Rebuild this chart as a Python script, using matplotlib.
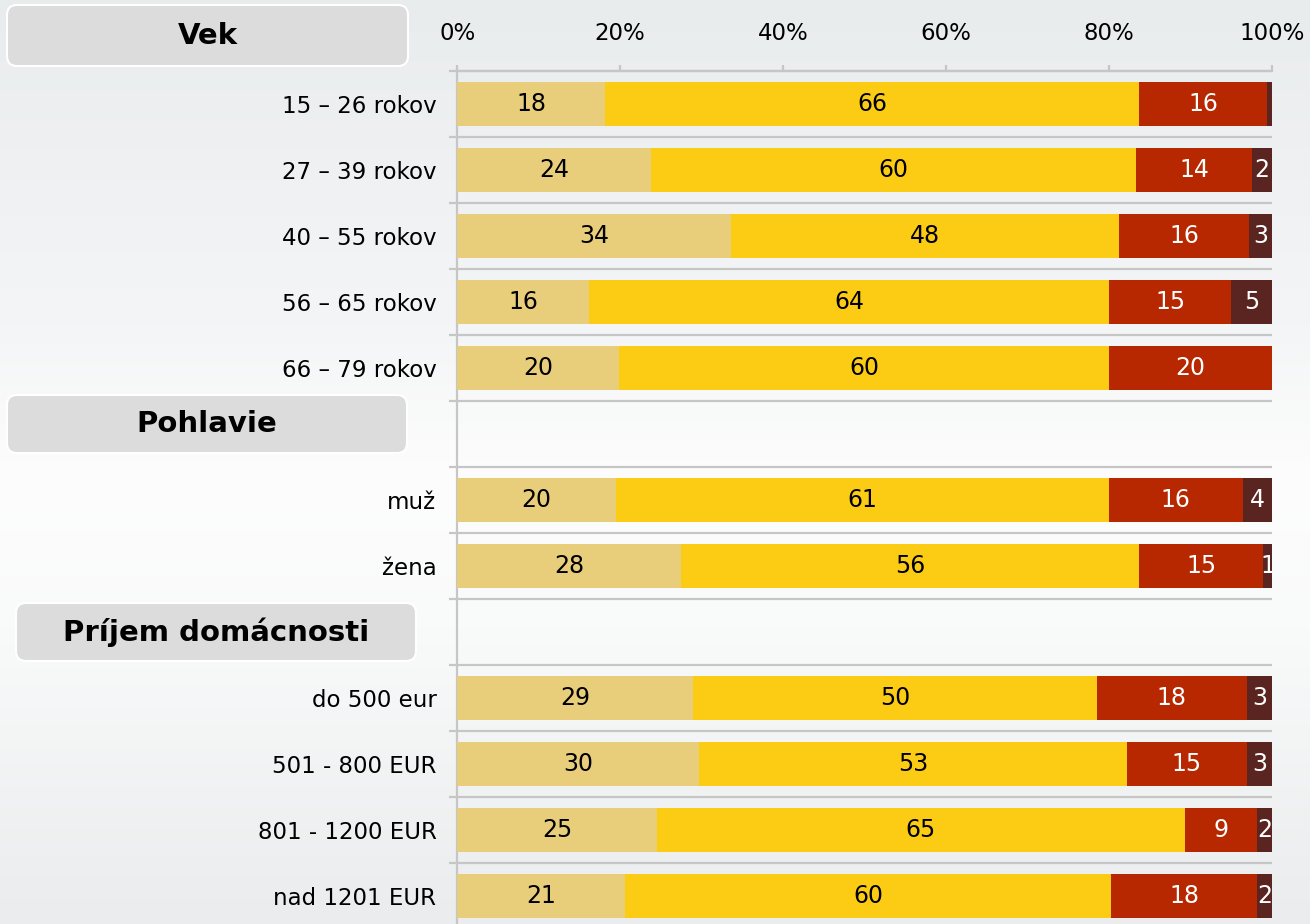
import numpy as np
import matplotlib
matplotlib.use("Agg")
import matplotlib.pyplot as plt
from matplotlib.patches import FancyBboxPatch
from matplotlib.transforms import IdentityTransform
from matplotlib.colors import LinearSegmentedColormap

plt.rcParams['font.family'] = ['DejaVu Sans']

# rows of the chart, "" = spacer row under a group header
rows = ["15 – 26 rokov", "27 – 39 rokov", "40 – 55 rokov", "56 – 65 rokov",
        "66 – 79 rokov", "", "muž", "žena", "", "do 500 eur",
        "501 - 800 EUR", "801 - 1200 EUR", "nad 1201 EUR"]

# percent shares per row (None for spacer rows)
s1 = [18.1, 23.8, 33.6, 16.2, 19.9, None, 19.5, 27.5, None, 28.9, 29.7, 24.5, 20.6]
s2 = [65.6, 59.5, 47.6, 63.8, 60.1, None, 60.5, 56.2, None, 49.6, 52.5, 64.8, 59.6]
s3 = [15.7, 14.3, 16.0, 15.0, 20.0, None, 16.4, 15.2, None, 18.4, 14.7, 8.9, 18.0]
s4 = [0.6, 2.4, 2.8, 5.0, 0.0, None, 3.6, 1.1, None, 3.1, 3.1, 1.8, 1.8]

series = [s1, s2, s3, s4]
colors = ["#e8cd7a", "#fccc14", "#b82800", "#5a2420"]
text_colors = ["black", "black", "white", "white"]

xticks = [0, 20, 40, 60, 80, 100]
xticklabels = ["0%", "20%", "40%", "60%", "80%", "100%"]

headers = ["Vek", "Pohlavie", "Príjem domácnosti"]
# header box pixel boxes (left, top, right, bottom) measured from the top-left
header_boxes = [(7, 5, 408, 66), (7, 395, 407, 453), (16, 603, 416, 661)]

W, H = 1310, 924
fig = plt.figure(figsize=(W / 100, H / 100), dpi=100)

# background gradient
bg = fig.add_axes([0, 0, 1, 1], zorder=-5)
cmap = LinearSegmentedColormap.from_list(
    "bg", [(0.0, "#e9eced"), (0.35, "#f4f5f6"), (0.52, "#fdfdfd"),
           (0.68, "#f9fafa"), (1.0, "#eaeced")])
bg.imshow(np.linspace(0, 1, 256).reshape(-1, 1), aspect="auto", cmap=cmap,
          extent=[0, 1, 0, 1])
bg.axis("off")

# main axes: 0% at x=457.3, 100% at x=1272, top at y=71, row pitch 66px
n = len(rows)
x0, x1 = 457.3, 1272.0
ytop = 71.0
ybot = ytop + 66 * n
ax = fig.add_axes([x0 / W, 1 - ybot / H, (x1 - x0) / W, (ybot - ytop) / H])
ax.set_facecolor("none")

ypos = np.arange(n)
for k, (vals, c, tc) in enumerate(zip(series, colors, text_colors)):
    for i, v in enumerate(vals):
        if v is None:
            continue
        left = sum(series[j][i] for j in range(k))
        ax.barh(i, v, left=left, height=0.68, color=c, edgecolor="none", zorder=3)
        if v >= 1:
            lab = str(int(np.floor(v + 0.5)))
            ax.text(left + v / 2, i, lab, ha="center", va="center",
                    color=tc, fontsize=17, zorder=4, clip_on=True)

ax.set_xlim(0, 100)
ax.set_ylim(n - 0.5, -0.5)

# row separators
grid_c = "#c6c6c6"
ax.hlines(np.arange(n + 1) - 0.5, -1.0, 100, color=grid_c, lw=1.6,
          clip_on=False, zorder=2)

for side in ["right", "bottom"]:
    ax.spines[side].set_visible(False)
ax.spines["top"].set_color(grid_c)
ax.spines["top"].set_linewidth(1.6)
ax.spines["left"].set_color(grid_c)
ax.spines["left"].set_linewidth(1.6)

ax.xaxis.tick_top()
ax.set_xticks(xticks, xticklabels)
ax.tick_params(axis="x", length=4.5, width=1.6, color=grid_c, pad=14,
               labelsize=16.5)
ax.set_yticks(ypos, rows)
ax.tick_params(axis="y", length=0, pad=15, labelsize=16.5)

# group header boxes
for name, (l, t, r, b) in zip(headers, header_boxes):
    box = FancyBboxPatch((l, H - b), r - l, b - t,
                         boxstyle="round,pad=0,rounding_size=10",
                         transform=IdentityTransform(), facecolor="#dcdcdc",
                         edgecolor="white", lw=1.5, zorder=1)
    fig.add_artist(box)
    fig.text((l + r) / 2 / W, 1 - (t + b) / 2 / H, name, ha="center",
             va="center", fontsize=21, fontweight="bold", color="black")

fig.savefig("out.png", dpi=100)
